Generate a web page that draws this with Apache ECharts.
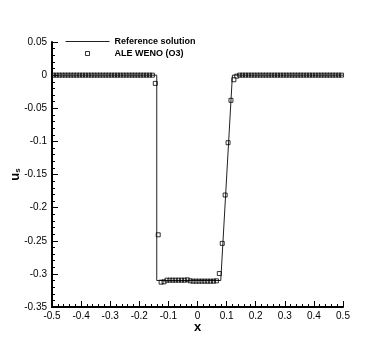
<!DOCTYPE html>
<html>
<head>
<meta charset="utf-8">
<script src="https://cdn.jsdelivr.net/npm/echarts@6/dist/echarts.min.js"></script>
<style>
  html, body { margin: 0; padding: 0; background: #fff; }
  #chart { width: 390px; height: 347px; }
</style>
</head>
<body>
<div id="chart"></div>
<script>
// reference solution (piecewise)
const refX = [-0.5, -0.14, -0.14, 0.08, 0.12, 0.5];
const refY = [0, 0, -0.31, -0.31, 0, 0];

// ALE WENO (O3) cell values
const aleX = [
  -0.495, -0.485, -0.475, -0.465, -0.455, -0.445, -0.435, -0.425, -0.415, -0.405,
  -0.395, -0.385, -0.375, -0.365, -0.355, -0.345, -0.335, -0.325, -0.315, -0.305,
  -0.295, -0.285, -0.275, -0.265, -0.255, -0.245, -0.235, -0.225, -0.215, -0.205,
  -0.195, -0.185, -0.175, -0.165, -0.155, -0.145, -0.135, -0.125, -0.115, -0.105,
  -0.095, -0.085, -0.075, -0.065, -0.055, -0.045, -0.035, -0.025, -0.015, -0.005,
  0.005, 0.015, 0.025, 0.035, 0.045, 0.055, 0.065, 0.075, 0.085, 0.095,
  0.105, 0.115, 0.125, 0.135, 0.145, 0.155, 0.165, 0.175, 0.185, 0.195,
  0.205, 0.215, 0.225, 0.235, 0.245, 0.255, 0.265, 0.275, 0.285, 0.295,
  0.305, 0.315, 0.325, 0.335, 0.345, 0.355, 0.365, 0.375, 0.385, 0.395,
  0.405, 0.415, 0.425, 0.435, 0.445, 0.455, 0.465, 0.475, 0.485, 0.495
];
const aleY = [
  0, 0, 0, 0, 0, 0, 0, 0, 0, 0,
  0, 0, 0, 0, 0, 0, 0, 0, 0, 0,
  0, 0, 0, 0, 0, 0, 0, 0, 0, 0,
  0, 0, 0, 0, 0, -0.0125, -0.241, -0.3125, -0.312, -0.3095,
  -0.3095, -0.3095, -0.3095, -0.3095, -0.3095, -0.3095, -0.309, -0.3105, -0.311, -0.311,
  -0.311, -0.311, -0.311, -0.311, -0.311, -0.311, -0.3105, -0.2995, -0.254, -0.181,
  -0.102, -0.038, -0.007, -0.0015, 0, 0, 0, 0, 0, 0,
  0, 0, 0, 0, 0, 0, 0, 0, 0, 0,
  0, 0, 0, 0, 0, 0, 0, 0, 0, 0,
  0, 0, 0, 0, 0, 0, 0, 0, 0, 0
];

const font = 'Liberation Sans, Arial, Helvetica, sans-serif';

const chart = echarts.init(document.getElementById('chart'));

const axisCommon = {
  axisLine: { onZero: false, lineStyle: { color: '#000', width: 2 } },
  axisTick: { inside: true, length: 6, lineStyle: { color: '#000', width: 1 } },
  minorTick: { show: true, splitNumber: 5, length: 3, lineStyle: { color: '#000', width: 1 } },
  axisLabel: { color: '#000', fontSize: 10, fontFamily: font },
  splitLine: { show: false }
};

chart.setOption({
  animation: false,
  backgroundColor: '#fff',
  grid: { left: 52, right: 47, top: 42, bottom: 40, outerBoundsMode: 'none' },
  legend: {
    orient: 'vertical',
    left: 60,
    top: 31,
    itemWidth: 44,
    itemHeight: 5,
    itemGap: 1,
    textStyle: { color: '#000', fontSize: 9, fontWeight: 'bold', fontFamily: font, lineHeight: 11 },
    data: [
      {
        name: 'Reference solution',
        itemStyle: { opacity: 0 },
        lineStyle: { color: '#222', width: 1 }
      },
      {
        name: 'ALE WENO (O3)',
        itemStyle: { color: 'rgba(0,0,0,0)', borderColor: '#000', borderWidth: 0.8 },
        lineStyle: { opacity: 0, width: 0 }
      }
    ]
  },
  xAxis: Object.assign({}, axisCommon, {
    type: 'value',
    min: -0.5,
    max: 0.5,
    interval: 0.1,
    name: 'x',
    nameLocation: 'middle',
    nameGap: 14,
    nameMoveOverlap: false,
    nameTextStyle: { color: '#000', fontSize: 13, fontWeight: 'bold', fontFamily: font },
    axisLabel: { color: '#000', fontSize: 10, fontFamily: font, margin: 4 }
  }),
  yAxis: Object.assign({}, axisCommon, {
    type: 'value',
    min: -0.35,
    max: 0.05,
    interval: 0.05,
    name: '{u|u}{s|s}',
    nameLocation: 'middle',
    nameRotate: 90,
    nameGap: 30,
    nameMoveOverlap: false,
    nameTextStyle: {
      color: '#000',
      fontFamily: font,
      rich: {
        u: { fontSize: 13, fontWeight: 'bold', fontFamily: font, color: '#000' },
        s: { fontSize: 8, fontWeight: 'bold', fontFamily: font, color: '#000', verticalAlign: 'bottom' }
      }
    },
    axisLabel: { color: '#000', fontSize: 10, fontFamily: font, margin: 5 }
  }),
  series: [
    {
      name: 'Reference solution',
      type: 'line',
      data: refX.map((x, i) => [x, refY[i]]),
      symbol: 'none',
      lineStyle: { color: '#222', width: 1 },
      itemStyle: { color: '#222' },
      z: 2
    },
    {
      name: 'ALE WENO (O3)',
      type: 'line',
      data: aleX.map((x, i) => [x, aleY[i]]),
      symbol: 'rect',
      symbolSize: 4,
      showAllSymbol: true,
      lineStyle: { width: 0, opacity: 0 },
      itemStyle: { color: 'rgba(0,0,0,0)', borderColor: '#000', borderWidth: 0.8 },
      z: 3
    }
  ]
});
</script>
</body>
</html>
